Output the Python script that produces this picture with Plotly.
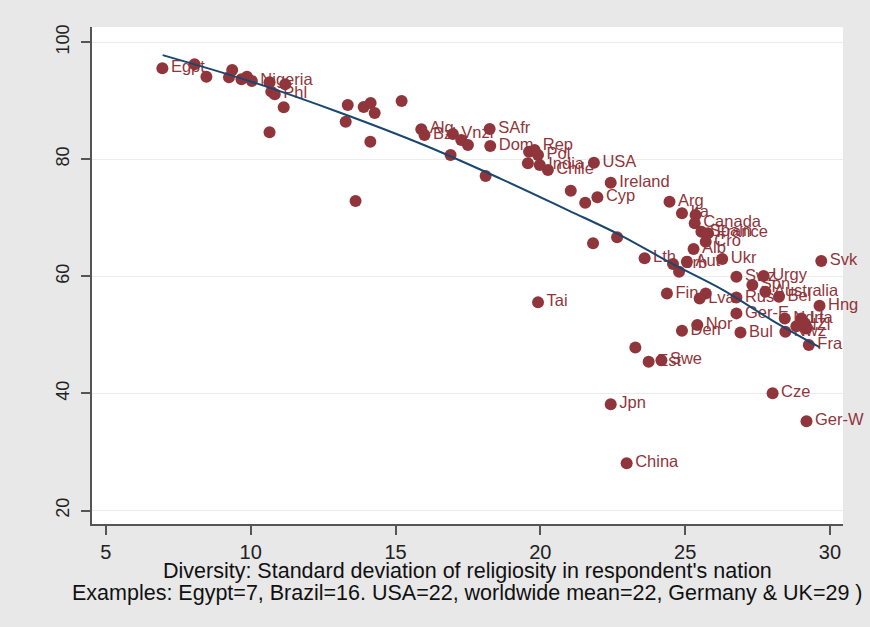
import plotly.graph_objects as go

# ---- data ----
countries = [
    "Egpt", "", "", "", "", "", "", "Nigeria", "", "", "Phl", "", "", "",
    "", "", "", "", "", "", "", "",
    "Alg", "Bzl", "Vnzl", "", "", "", "SAfr", "Dom. Rep", "",
    "", "", "Pol", "", "India", "Chile", "USA", "Ireland", "", "Cyp", "", "", "", "Tai",
    "Arg", "Ita", "", "Canada", "Spain", "France", "Cro", "Alb", "Lth", "Srb", "", "Aut",
    "Ukr", "Svk", "Swz", "Urgy", "Spn", "Australia", "Bel", "Fin", "", "Lva", "Rus",
    "Hng", "Ger-E", "Ndrl", "Lta", "", "NZl", "", "Nwz", "Fra", "Nor", "Den", "Bul",
    "", "Swe", "Est", "Jpn", "China", "Cze", "Ger-W",
]
diversity = [
    6.95, 8.06, 8.47, 9.25, 9.36, 9.68, 9.87, 10.04, 10.65, 10.71, 10.83, 11.19, 11.14, 10.65,
    13.28, 13.35, 13.90, 14.14, 14.28, 14.13, 13.62, 15.21,
    15.89, 16.00, 16.98, 17.27, 17.50, 16.90, 18.25, 18.27, 18.11,
    19.61, 19.57, 19.92, 19.80, 19.98, 20.26, 21.85, 22.43, 21.05, 21.97, 21.55, 22.65, 21.82, 19.92,
    24.46, 24.89, 25.36, 25.33, 25.56, 25.79, 25.71, 25.29, 23.60, 24.58, 24.79, 25.06,
    26.28, 29.70, 26.77, 27.71, 27.32, 27.77, 28.24, 24.37, 25.71, 25.50, 26.77,
    29.64, 26.77, 28.44, 29.01, 29.13, 28.84, 29.18, 28.46, 29.27, 25.42, 24.89, 26.91,
    23.28, 24.18, 23.74, 22.43, 22.98, 28.02, 29.19,
]
religiosity = [
    95.56, 96.24, 94.12, 94.02, 95.26, 93.68, 94.12, 93.38, 93.16, 91.56, 91.11, 92.82, 88.89, 84.62,
    86.43, 89.28, 88.94, 89.62, 87.91, 83.01, 72.87, 89.97,
    85.13, 84.15, 84.32, 83.30, 82.44, 80.73, 85.18, 82.27, 77.15,
    81.30, 79.32, 80.74, 81.59, 79.03, 78.18, 79.42, 76.00, 74.63, 73.50, 72.58, 66.67, 65.64, 55.56,
    72.75, 70.77, 70.48, 69.06, 67.62, 67.35, 65.91, 64.67, 63.08, 62.10, 60.79, 62.50,
    62.96, 62.62, 59.93, 60.05, 58.51, 57.37, 56.51, 57.09, 57.09, 56.24, 56.41,
    54.97, 53.68, 52.82, 52.82, 51.97, 51.50, 51.11, 50.53, 48.26, 51.68, 50.70, 50.43,
    47.86, 45.69, 45.40, 38.17, 28.09, 40.05, 35.26,
]

# fitted curve
fit_x = [6.96, 10.0, 13.07, 16.0, 18.6, 21.0, 22.74, 24.5, 26.3, 28.0, 29.64]
fit_y = [97.8, 93.3, 88.0, 82.4, 76.75, 71.2, 67.1, 62.3, 57.7, 52.5, 47.9]

x_ticks = [5, 10, 15, 20, 25, 30]
y_ticks = [20, 40, 60, 80, 100]

title_line1 = "Diversity: Standard deviation of religiosity in respondent's nation"
title_line2 = "Examples: Egypt=7, Brazil=16. USA=22, worldwide mean=22, Germany & UK=29 )"

MAROON = "rgb(144,53,59)"
NAVY = "rgb(26,71,111)"
FONT = "Liberation Sans, Arial, sans-serif"

fig = go.Figure()
fig.add_trace(go.Scatter(
    x=diversity, y=religiosity, mode="markers+text", text=countries,
    textposition="middle right", cliponaxis=False,
    textfont=dict(family=FONT, size=16.5, color=MAROON),
    marker=dict(size=12, color=MAROON, line=dict(width=0)),
    showlegend=False, hoverinfo="skip",
))
fig.add_trace(go.Scatter(
    x=fit_x, y=fit_y, mode="lines", line=dict(color=NAVY, width=2, shape="spline"),
    showlegend=False, hoverinfo="skip",
))

axis_common = dict(
    showline=True, linecolor="#555555", linewidth=1.5,
    ticks="outside", ticklen=9, tickwidth=1.5, tickcolor="#555555",
    zeroline=False, mirror=False,
)
fig.update_xaxes(
    range=[4.52, 30.45], tickvals=x_ticks, showgrid=False,
    tickfont=dict(family=FONT, size=20, color="#222222"), **axis_common,
)
fig.update_yaxes(
    range=[17.7, 102.6], tickvals=y_ticks, showgrid=True, gridcolor="#ececec", gridwidth=1,
    tickangle=-90, ticklabelstandoff=5,
    tickfont=dict(family=FONT, size=18, color="#222222"), **axis_common,
)

fig.add_annotation(text=title_line1, xref="paper", yref="paper", x=0.5, y=-0.0952,
                   xanchor="center", yanchor="middle", showarrow=False,
                   font=dict(family=FONT, size=21.5, color="#111111"))
fig.add_annotation(text=title_line2, xref="paper", yref="paper", x=0.5, y=-0.1395,
                   xanchor="center", yanchor="middle", showarrow=False,
                   font=dict(family=FONT, size=21.5, color="#111111"))

fig.update_layout(
    width=870, height=627,
    margin=dict(l=92, r=27, t=27, b=103, autoexpand=False),
    paper_bgcolor="#e8e8e8", plot_bgcolor="white",
)
fig.write_html("out.html", config={"displayModeBar": False},
               post_script="document.body.style.margin='0';document.body.style.padding='0';")
